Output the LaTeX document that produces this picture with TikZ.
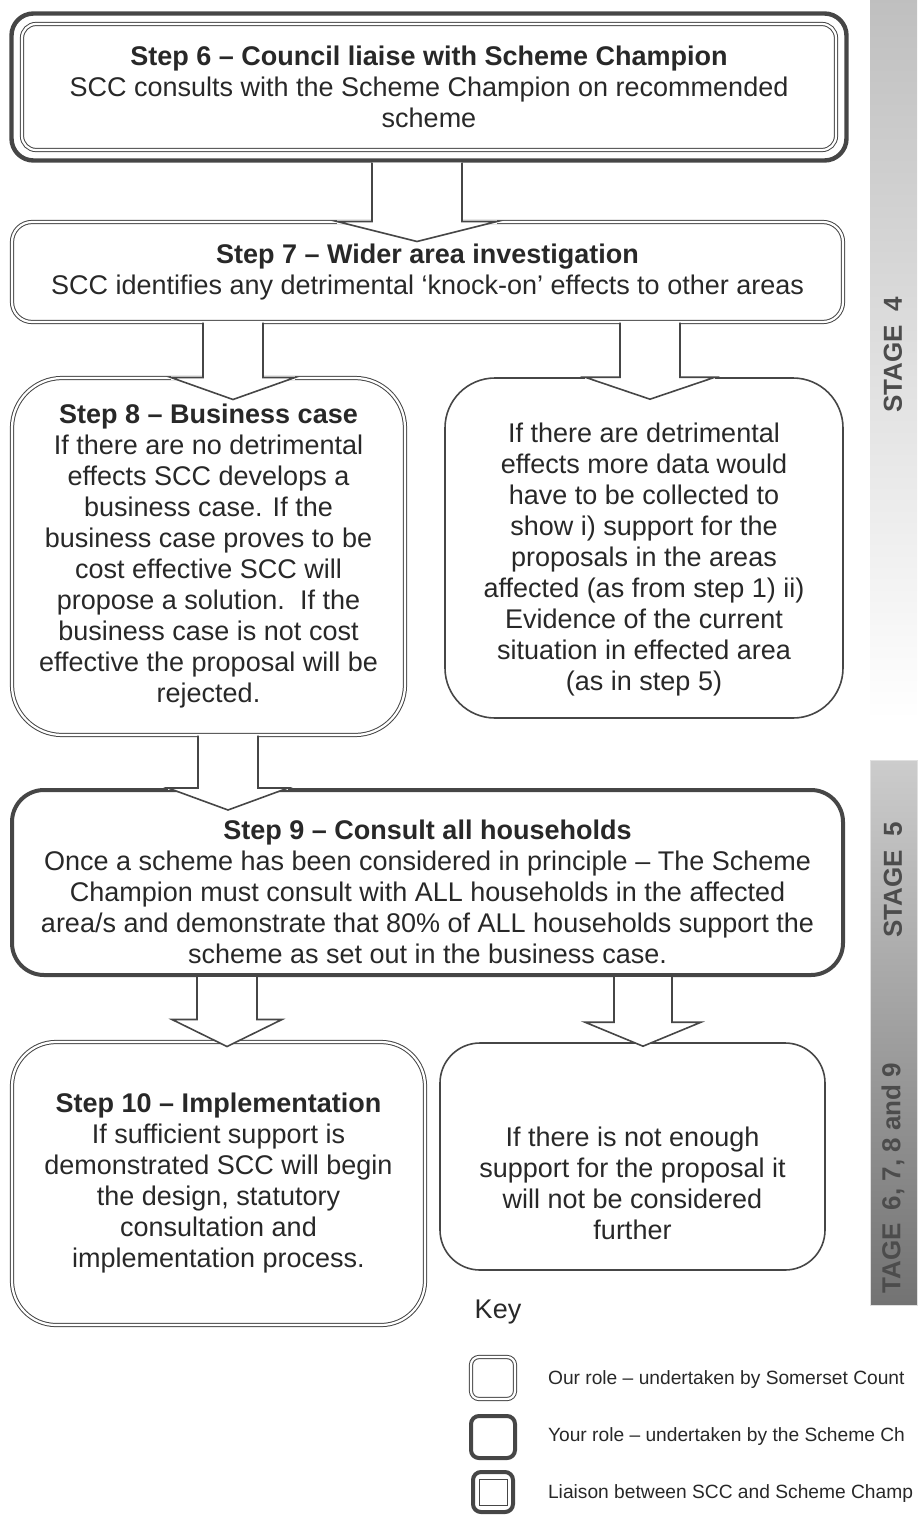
\documentclass[tikz,border=0pt]{standalone}
\usepackage{fontspec}
\setmainfont{Liberation Sans}
\usetikzlibrary{positioning,calc,fit}
\definecolor{inkgrey}{RGB}{40,40,40}
\definecolor{linegrey}{RGB}{70,70,70}

% block arrow: from, to, x, shaft half width, head half width, head base above target, tip below target
\newcommand{\flowarrow}[7]{%
  \coordinate (ta) at (#3,0 |- #1.south);
  \coordinate (tb) at (#3,0 |- #2.north);
  \fill[white] ($(tb)+(-#5,-#6-1.5)$) rectangle ($(tb)+(#5,-#6+2)$);
  \fill[white] ($(ta)+(-#4,0)$) -- ($(tb)+(-#4,-#6)$) -- ($(tb)+(-#5,-#6)$) -- ($(tb)+(0,#7)$)
    -- ($(tb)+(#5,-#6)$) -- ($(tb)+(#4,-#6)$) -- ($(ta)+(#4,0)$) -- cycle;
  \draw[arrowline] ($(ta)+(-#4,0)$) -- ($(tb)+(-#4,-#6)$) -- ($(tb)+(-#5,-#6)$) -- ($(tb)+(0,#7)$)
    -- ($(tb)+(#5,-#6)$) -- ($(tb)+(#4,-#6)$) -- ($(ta)+(#4,0)$);
}

\begin{document}
\begin{tikzpicture}[x=0.5pt, y=-0.5pt,
  every node/.style={text=inkgrey, font=\fontsize{13.5}{15.5}\selectfont, align=center},
  ourrole/.style={draw=linegrey, double, line width=0.5pt, double distance=1.1pt, inner sep=0pt},
  yourrole/.style={draw=linegrey, line width=2pt, inner sep=0pt},
  onebox/.style={draw=linegrey, line width=0.8pt, inner sep=0pt},
  liaisonframe/.style={draw=linegrey, line width=2.2pt, rounded corners=11pt, inner sep=5pt},
  arrowline/.style={linegrey, line width=0.8pt, line join=miter},
  keybox/.style={minimum width=22pt, minimum height=21pt, rounded corners=4pt, inner sep=0pt},
  keytext/.style={anchor=west, font=\fontsize{9.6}{11}\selectfont},
  stagetext/.style={rotate=90, font=\bfseries\fontsize{13}{15}\selectfont, text=black!70}]
  \useasboundingbox (0,0) rectangle (917,1515);

  \shade[top color=black!25, middle color=black!19, bottom color=white] (870,0) rectangle (917,720);
  \shade[top color=black!20, middle color=black!8, bottom color=black!55, draw=black!12] (870,760) rectangle (917,1305);
  \node[stagetext] (st4) at (893,355) {STAGE\enspace 4};
  \node[stagetext] (st5) at (893,880) {STAGE\enspace 5};
  \node[stagetext] (st6) at (893,1178) {TAGE\enspace 6, 7, 8 and 9};

  \node[ourrole, rounded corners=7pt, minimum width=407pt, minimum height=63pt] (s6) at (429,87)
    {\textbf{Step 6 – Council liaise with Scheme Champion}\\ SCC consults with the Scheme Champion on recommended\\ scheme};
  \node[liaisonframe, fit=(s6)] (s6frame) {};
  \node[ourrole, rounded corners=10pt, minimum width=415.5pt, minimum height=50pt] (s7) at (427.5,272)
    {\textbf{Step 7 – Wider area investigation}\\ SCC identifies any detrimental ‘knock-on’ effects to other areas};
  \node[ourrole, rounded corners=25pt, minimum width=196.5pt, minimum height=178.5pt] (s8) at (208.5,556.5)
    {\textbf{Step 8 – Business case}\\ If there are no detrimental\\ effects SCC develops a\\ business case. If the\\ business case proves to be\\ cost effective SCC will\\ propose a solution.\ \ If the\\ business case is not cost\\ effective the proposal will be\\ rejected.};
  \node[onebox, rounded corners=25pt, minimum width=199pt, minimum height=170pt] (r4) at (644,548)
    {};
  \node (r4txt) at (644,560) {If there are detrimental\\ effects more data would\\ have to be collected to\\ show i) support for the\\ proposals in the areas\\ affected (as from step 1) ii)\\ Evidence of the current\\ situation in effected area\\ (as in step 5)};
  \node[yourrole, rounded corners=16pt, minimum width=415.5pt, minimum height=92.5pt] (s9) at (427.5,882.5)
    {};
  \node (s9txt) at (427.5,892) {\textbf{Step 9 – Consult all households}\\ Once a scheme has been considered in principle – The Scheme\\ Champion must consult with ALL households in the affected\\ area/s and demonstrate that 80\% of ALL households support the\\ scheme as set out in the business case.};
  \node[ourrole, rounded corners=22pt, minimum width=206.5pt, minimum height=141.5pt] (s10) at (218.5,1183.5)
    {\textbf{Step 10 – Implementation}\\ If sufficient support is\\ demonstrated SCC will begin\\ the design, statutory\\ consultation and\\ implementation process.};
  \node[onebox, rounded corners=20pt, minimum width=192.5pt, minimum height=113.5pt] (r5) at (632.5,1156.5) {};
  \node (r5txt) at (632.5,1183) {If there is not enough\\ support for the proposal it\\ will not be considered\\ further};

  \flowarrow{s6frame}{s7}{417}{45}{80}{0}{20}
  \flowarrow{s7}{s8}{233}{30}{62}{0}{22}
  \flowarrow{s7}{r4}{650}{30}{65}{0}{22}
  \flowarrow{s8}{s9}{228}{30}{60}{0}{22}
  \flowarrow{s9}{s10}{227}{30}{55}{22}{5}
  \flowarrow{s9}{r5}{643}{29}{58}{20}{4}

  \node (key) at (498,1312) {Key};
  \node[keybox, ourrole] (key1) at (493,1378) {};
  \node[keybox, yourrole] (key2) at (493,1437) {};
  \node[keybox, yourrole, minimum width=20pt, minimum height=20pt] (key3) at (493,1492) {};
  \node[draw=linegrey, line width=0.5pt, minimum width=14pt, minimum height=13pt, inner sep=0pt] (key3in) at (key3) {};
  \node[keytext] (k1txt) at (541,1380) {Our role – undertaken by Somerset Count};
  \node[keytext] (k2txt) at (541,1437) {Your role – undertaken by the Scheme Ch};
  \node[keytext] (k3txt) at (541,1494) {Liaison between SCC and Scheme Champ};
\end{tikzpicture}
\end{document}
